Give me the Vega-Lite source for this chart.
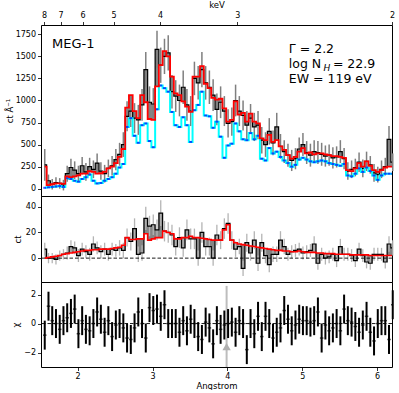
{
"$schema": "https://vega.github.io/schema/vega-lite/v6.json",
"padding": {"left": 4, "top": 0, "right": 3, "bottom": 0},
"spacing": 0,
"bounds": "flush",
"config": {
 "font": "DejaVu Sans",
 "view": {"stroke": "#000000", "strokeWidth": 1},
 "axis": {"grid": false, "domain": false, "ticks": true, "tickColor": "#000000", "tickSize": 3.5, "tickWidth": 0.8, "labelFont": "DejaVu Sans", "labelFontSize": 8, "labelColor": "#000000", "labelPadding": 2, "labelOverlap": false, "titleFont": "DejaVu Sans", "titleFontSize": 8.5, "titleFontWeight": "normal", "titleColor": "#000000"}
},
"datasets": {
"spec": [
{"x":1.56,"d":270,"e":180,"m":250,"c":10,"d2":7,"e2":5,"m2":0,"r":-0.8,"re":1},
{"x":1.61,"d":90,"e":70,"m":40,"c":15,"d2":0,"e2":4,"m2":0.5,"r":1.2,"re":1},
{"x":1.66,"d":50,"e":60,"m":50,"c":20,"d2":0,"e2":4,"m2":1,"r":0.2,"re":1},
{"x":1.71,"d":70,"e":60,"m":60,"c":25,"d2":-1,"e2":4,"m2":1.5,"r":0,"re":1},
{"x":1.76,"d":60,"e":60,"m":60,"c":30,"d2":2,"e2":4,"m2":2,"r":-0.4,"re":1},
{"x":1.81,"d":40,"e":60,"m":55,"c":20,"d2":3,"e2":4,"m2":3,"r":0.2,"re":1},
{"x":1.86,"d":170,"e":90,"m":140,"c":120,"d2":4,"e2":5,"m2":3.5,"r":0.4,"re":1},
{"x":1.91,"d":240,"e":100,"m":130,"c":110,"d2":9,"e2":5,"m2":4,"r":0.7,"re":1},
{"x":1.96,"d":210,"e":100,"m":140,"c":90,"d2":8,"e2":5,"m2":4.5,"r":1.0,"re":1},
{"x":2.01,"d":170,"e":90,"m":150,"c":80,"d2":2,"e2":5,"m2":5,"r":-0.7,"re":1},
{"x":2.06,"d":260,"e":100,"m":170,"c":110,"d2":7,"e2":5,"m2":5.5,"r":0.2,"re":1},
{"x":2.11,"d":190,"e":100,"m":170,"c":130,"d2":5,"e2":5,"m2":6,"r":-0.4,"re":1},
{"x":2.16,"d":250,"e":100,"m":200,"c":160,"d2":3,"e2":5,"m2":6,"r":-0.5,"re":1},
{"x":2.21,"d":220,"e":100,"m":190,"c":90,"d2":11,"e2":6,"m2":6.5,"r":0.0,"re":1},
{"x":2.26,"d":290,"e":110,"m":170,"c":60,"d2":8,"e2":5,"m2":6.5,"r":0.8,"re":1},
{"x":2.31,"d":200,"e":100,"m":175,"c":65,"d2":5,"e2":5,"m2":7,"r":0.3,"re":1},
{"x":2.36,"d":170,"e":100,"m":190,"c":90,"d2":7,"e2":5,"m2":7,"r":-0.6,"re":1},
{"x":2.41,"d":230,"e":100,"m":230,"c":110,"d2":3,"e2":5,"m2":7,"r":0.2,"re":1},
{"x":2.46,"d":260,"e":110,"m":250,"c":130,"d2":7,"e2":5,"m2":7.5,"r":-0.9,"re":1},
{"x":2.51,"d":330,"e":120,"m":290,"c":170,"d2":6,"e2":5,"m2":8,"r":-0.1,"re":1},
{"x":2.56,"d":390,"e":130,"m":360,"c":240,"d2":8,"e2":6,"m2":8.5,"r":0,"re":1},
{"x":2.61,"d":500,"e":140,"m":450,"c":280,"d2":6,"e2":6,"m2":10,"r":-0.3,"re":1},
{"x":2.66,"d":820,"e":170,"m":920,"c":700,"d2":16,"e2":7,"m2":16,"r":-1.0,"re":1},
{"x":2.71,"d":880,"e":180,"m":1060,"c":800,"d2":13,"e2":7,"m2":14.5,"r":-1.1,"re":1},
{"x":2.76,"d":800,"e":170,"m":880,"c":600,"d2":23,"e2":8,"m2":14.5,"r":-0.3,"re":1},
{"x":2.81,"d":780,"e":170,"m":800,"c":520,"d2":3,"e2":6,"m2":15,"r":0.8,"re":1},
{"x":2.86,"d":950,"e":180,"m":1060,"c":720,"d2":4,"e2":6,"m2":15,"r":0.0,"re":1},
{"x":2.91,"d":1350,"e":200,"m":980,"c":740,"d2":31,"e2":9,"m2":19,"r":-1.0,"re":1},
{"x":2.96,"d":980,"e":180,"m":790,"c":540,"d2":25,"e2":8,"m2":14,"r":1.1,"re":1},
{"x":3.01,"d":960,"e":180,"m":780,"c":470,"d2":26,"e2":8,"m2":15,"r":0.9,"re":1},
{"x":3.06,"d":1580,"e":210,"m":1160,"c":900,"d2":22,"e2":8,"m2":16,"r":1.0,"re":1},
{"x":3.11,"d":1400,"e":200,"m":1400,"c":1170,"d2":35,"e2":10,"m2":16,"r":0.5,"re":1},
{"x":3.16,"d":1500,"e":200,"m":1560,"c":1140,"d2":21,"e2":8,"m2":21,"r":1.3,"re":1},
{"x":3.21,"d":1540,"e":200,"m":1500,"c":1100,"d2":20,"e2":8,"m2":20,"r":0.0,"re":1},
{"x":3.26,"d":1100,"e":190,"m":1270,"c":870,"d2":18,"e2":8,"m2":19,"r":0.0,"re":1},
{"x":3.31,"d":1050,"e":180,"m":1080,"c":720,"d2":9,"e2":7,"m2":15,"r":0.0,"re":1},
{"x":3.36,"d":1000,"e":180,"m":1060,"c":700,"d2":16,"e2":8,"m2":15,"r":-0.6,"re":1},
{"x":3.41,"d":1150,"e":190,"m":990,"c":810,"d2":8,"e2":7,"m2":16,"r":0.2,"re":1},
{"x":3.46,"d":950,"e":180,"m":930,"c":720,"d2":22,"e2":8,"m2":16,"r":-0.5,"re":1},
{"x":3.51,"d":880,"e":170,"m":870,"c":530,"d2":15,"e2":8,"m2":17,"r":0.3,"re":1},
{"x":3.56,"d":1250,"e":190,"m":1270,"c":890,"d2":15,"e2":8,"m2":16,"r":0.0,"re":1},
{"x":3.61,"d":1200,"e":190,"m":1270,"c":950,"d2":0,"e2":6,"m2":16,"r":-0.9,"re":1},
{"x":3.66,"d":1350,"e":200,"m":1390,"c":1100,"d2":20,"e2":8,"m2":15.5,"r":-1.1,"re":1},
{"x":3.71,"d":1200,"e":190,"m":1190,"c":830,"d2":9,"e2":7,"m2":15,"r":0.1,"re":1},
{"x":3.76,"d":1150,"e":190,"m":1140,"c":820,"d2":9,"e2":7,"m2":14.5,"r":-0.3,"re":1},
{"x":3.81,"d":1060,"e":180,"m":1030,"c":690,"d2":0,"e2":6,"m2":14,"r":-1.4,"re":1},
{"x":3.86,"d":900,"e":180,"m":1010,"c":760,"d2":18,"e2":8,"m2":14,"r":0.2,"re":1},
{"x":3.91,"d":980,"e":180,"m":1020,"c":590,"d2":14,"e2":7,"m2":14,"r":-0.4,"re":1},
{"x":3.96,"d":880,"e":170,"m":910,"c":350,"d2":23,"e2":8,"m2":22,"r":-0.1,"re":1},
{"x":4.01,"d":740,"e":160,"m":760,"c":490,"d2":27,"e2":8,"m2":26,"r":0.0,"re":1},
{"x":4.06,"d":760,"e":160,"m":780,"c":510,"d2":14,"e2":7,"m2":14,"r":0.1,"re":1},
{"x":4.11,"d":1000,"e":180,"m":990,"c":740,"d2":7,"e2":6,"m2":12,"r":-0.6,"re":1},
{"x":4.16,"d":880,"e":170,"m":840,"c":650,"d2":9,"e2":6,"m2":11,"r":0.2,"re":1},
{"x":4.21,"d":830,"e":170,"m":860,"c":560,"d2":-8,"e2":6,"m2":10.5,"r":0.0,"re":1},
{"x":4.26,"d":720,"e":160,"m":760,"c":550,"d2":12,"e2":7,"m2":10,"r":-1.8,"re":1},
{"x":4.31,"d":800,"e":160,"m":850,"c":630,"d2":4,"e2":6,"m2":9.5,"r":0.0,"re":1},
{"x":4.36,"d":700,"e":160,"m":760,"c":560,"d2":14,"e2":7,"m2":9,"r":-0.7,"re":1},
{"x":4.41,"d":720,"e":160,"m":740,"c":600,"d2":-4,"e2":6,"m2":8.5,"r":0.5,"re":1},
{"x":4.46,"d":550,"e":150,"m":570,"c":340,"d2":12,"e2":7,"m2":8,"r":-0.9,"re":1},
{"x":4.51,"d":500,"e":140,"m":550,"c":320,"d2":2,"e2":6,"m2":7.5,"r":0.5,"re":1},
{"x":4.56,"d":650,"e":150,"m":610,"c":460,"d2":-5,"e2":6,"m2":7,"r":0.0,"re":1},
{"x":4.61,"d":520,"e":140,"m":530,"c":400,"d2":3,"e2":6,"m2":6.5,"r":-1.0,"re":1},
{"x":4.66,"d":700,"e":160,"m":550,"c":420,"d2":3,"e2":6,"m2":6,"r":-0.6,"re":1},
{"x":4.71,"d":480,"e":140,"m":480,"c":360,"d2":14,"e2":7,"m2":6,"r":-0.3,"re":1},
{"x":4.76,"d":420,"e":130,"m":440,"c":320,"d2":9,"e2":6,"m2":5.5,"r":0.9,"re":1},
{"x":4.81,"d":380,"e":130,"m":380,"c":290,"d2":3,"e2":5,"m2":5.5,"r":0.3,"re":1},
{"x":4.86,"d":320,"e":120,"m":340,"c":250,"d2":5,"e2":5,"m2":5,"r":-0.5,"re":1},
{"x":4.91,"d":340,"e":120,"m":360,"c":270,"d2":6,"e2":5,"m2":5,"r":-0.1,"re":1},
{"x":4.96,"d":450,"e":130,"m":420,"c":330,"d2":7,"e2":5,"m2":5.5,"r":0.3,"re":1},
{"x":5.01,"d":500,"e":130,"m":460,"c":350,"d2":4,"e2":5,"m2":5,"r":0.2,"re":1},
{"x":5.06,"d":410,"e":130,"m":400,"c":330,"d2":5,"e2":5,"m2":4.5,"r":0.2,"re":1},
{"x":5.11,"d":380,"e":130,"m":410,"c":310,"d2":6,"e2":5,"m2":4.5,"r":0.1,"re":1},
{"x":5.16,"d":420,"e":130,"m":390,"c":300,"d2":11,"e2":6,"m2":4.5,"r":0.2,"re":1},
{"x":5.21,"d":410,"e":130,"m":400,"c":310,"d2":-4,"e2":5,"m2":4,"r":0.8,"re":1},
{"x":5.26,"d":390,"e":130,"m":400,"c":320,"d2":3,"e2":5,"m2":4,"r":-1.0,"re":1},
{"x":5.31,"d":370,"e":120,"m":390,"c":310,"d2":0,"e2":5,"m2":3.5,"r":-0.1,"re":1},
{"x":5.36,"d":380,"e":120,"m":380,"c":290,"d2":1,"e2":5,"m2":3.5,"r":-0.5,"re":1},
{"x":5.41,"d":350,"e":120,"m":370,"c":280,"d2":3,"e2":5,"m2":3.5,"r":-0.3,"re":1},
{"x":5.46,"d":360,"e":120,"m":370,"c":270,"d2":-2,"e2":5,"m2":3,"r":0.0,"re":1},
{"x":5.51,"d":420,"e":130,"m":360,"c":260,"d2":9,"e2":6,"m2":3,"r":-0.5,"re":1},
{"x":5.56,"d":340,"e":120,"m":350,"c":280,"d2":3,"e2":5,"m2":3,"r":1.0,"re":1},
{"x":5.61,"d":200,"e":100,"m":210,"c":150,"d2":3,"e2":5,"m2":3,"r":0.2,"re":1},
{"x":5.66,"d":220,"e":100,"m":200,"c":140,"d2":2,"e2":5,"m2":2.5,"r":0.1,"re":1},
{"x":5.71,"d":240,"e":100,"m":230,"c":170,"d2":-2,"e2":5,"m2":2.5,"r":-0.2,"re":1},
{"x":5.76,"d":300,"e":110,"m":290,"c":230,"d2":7,"e2":5,"m2":2.5,"r":-0.6,"re":1},
{"x":5.81,"d":230,"e":100,"m":250,"c":190,"d2":2,"e2":5,"m2":2.5,"r":-0.1,"re":1},
{"x":5.86,"d":310,"e":110,"m":310,"c":240,"d2":-3,"e2":5,"m2":2.5,"r":0.5,"re":1},
{"x":5.91,"d":270,"e":100,"m":260,"c":200,"d2":-4,"e2":5,"m2":2,"r":-0.6,"re":1},
{"x":5.96,"d":180,"e":100,"m":210,"c":150,"d2":3,"e2":5,"m2":2,"r":-1.2,"re":1},
{"x":6.01,"d":160,"e":90,"m":190,"c":100,"d2":3,"e2":5,"m2":2,"r":0.0,"re":1},
{"x":6.06,"d":220,"e":100,"m":210,"c":150,"d2":3,"e2":5,"m2":2,"r":0.2,"re":1},
{"x":6.11,"d":250,"e":100,"m":240,"c":170,"d2":-3,"e2":5,"m2":2,"r":0.2,"re":1},
{"x":6.16,"d":560,"e":150,"m":250,"c":170,"d2":11,"e2":6,"m2":2,"r":-1.1,"re":1},
{"x":6.21,"d":300,"e":100,"m":250,"c":170,"d2":8,"e2":6,"m2":2,"r":1.3,"re":1}
],
"txt": [
{"x":1.657,"y":1592,"t":"MEG-1","k":"big"},
{"x":4.821,"y":1535,"t":"Γ = 2.2","k":"main"},
{"x":4.821,"y":1368,"t":"log N","k":"main"},
{"x":5.285,"y":1330,"t":"H","k":"sub"},
{"x":5.41,"y":1368,"t":"= 22.9","k":"main"},
{"x":4.821,"y":1202,"t":"EW = 119 eV","k":"main"}
],
"one": [{"z": 0}]
},
"vconcat": [
{
 "width": 351, "height": 171,
 "encoding": {
  "x": {"type": "quantitative", "title": "keV", "scale": {"domain": [1.51, 6.2], "nice": false, "zero": false},
    "axis": {"orient": "top", "title": "keV", "values": [1.54975, 1.77114, 2.06633, 2.4796, 3.0995, 4.13267, 6.199], "labelExpr": "format(12.398/datum.value, '.0f')", "labelFlush": false, "labelOverlap": false, "titlePadding": 2}},
  "y": {"type": "quantitative", "title": "ct Å⁻¹", "scale": {"domain": [-83, 1856], "nice": false, "zero": false},
    "axis": {"title": "ct Å⁻¹", "values": [0, 250, 500, 750, 1000, 1250, 1500, 1750], "format": "d", "labelOverlap": false, "titlePadding": 1}}
 },
 "layer": [
  {"data": {"name": "spec"},
   "mark": {"type": "area", "interpolate": "step", "color": "#858585", "clip": true},
   "encoding": {"x": {"field": "x"}, "y": {"field": "d"}, "y2": {"field": "m"}}},
  {"data": {"name": "spec"},
   "mark": {"type": "errorbar", "color": "#7f7f7f", "thickness": 1.5},
   "encoding": {"x": {"field": "x"}, "y": {"field": "d"}, "yError": {"field": "e"}}},
  {"data": {"name": "spec"},
   "mark": {"type": "line", "interpolate": "step", "color": "#000000", "strokeWidth": 1.2, "clip": true},
   "encoding": {"x": {"field": "x"}, "y": {"field": "d"}}},
  {"data": {"name": "spec"},
   "mark": {"type": "line", "interpolate": "step", "color": "#00ffff", "strokeWidth": 2, "clip": true},
   "encoding": {"x": {"field": "x"}, "y": {"field": "c"}}},
  {"data": {"name": "spec"},
   "mark": {"type": "tick", "orient": "horizontal", "color": "#0000ff", "size": 3, "thickness": 2, "clip": true},
   "encoding": {"x": {"field": "x"}, "y": {"field": "c"}}},
  {"data": {"name": "spec"},
   "mark": {"type": "line", "interpolate": "step", "color": "#ff0000", "strokeWidth": 1.8, "clip": true},
   "encoding": {"x": {"field": "x"}, "y": {"field": "m"}}},
  {"data": {"name": "txt"},
   "transform": [{"filter": "datum.k == 'big'"}],
   "mark": {"type": "text", "align": "left", "baseline": "alphabetic", "fontSize": 13, "color": "#000000"},
   "encoding": {"x": {"field": "x"}, "y": {"field": "y"}, "text": {"field": "t"}}},
  {"data": {"name": "txt"},
   "transform": [{"filter": "datum.k == 'main'"}],
   "mark": {"type": "text", "align": "left", "baseline": "alphabetic", "fontSize": 12.5, "color": "#000000"},
   "encoding": {"x": {"field": "x"}, "y": {"field": "y"}, "text": {"field": "t"}}},
  {"data": {"name": "txt"},
   "transform": [{"filter": "datum.k == 'sub'"}],
   "mark": {"type": "text", "align": "left", "baseline": "alphabetic", "fontSize": 9, "fontStyle": "italic", "color": "#000000"},
   "encoding": {"x": {"field": "x"}, "y": {"field": "y"}, "text": {"field": "t"}}}
 ]
},
{
 "width": 351, "height": 86,
 "encoding": {
  "x": {"type": "quantitative", "scale": {"domain": [1.51, 6.2], "nice": false, "zero": false}, "axis": null},
  "y": {"type": "quantitative", "title": "ct", "scale": {"domain": [-18.6, 48.4], "nice": false, "zero": false},
    "axis": {"title": "ct", "values": [0, 20, 40], "labelOverlap": false, "titlePadding": 3}}
 },
 "layer": [
  {"data": {"name": "spec"},
   "mark": {"type": "area", "interpolate": "step", "color": "#858585", "clip": true},
   "encoding": {"x": {"field": "x"}, "y": {"field": "d2"}, "y2": {"field": "m2"}}},
  {"data": {"name": "spec"},
   "mark": {"type": "errorbar", "color": "#b4b4b4", "thickness": 1.3},
   "encoding": {"x": {"field": "x"}, "y": {"field": "d2"}, "yError": {"field": "e2"}}},
  {"data": {"name": "one"},
   "mark": {"type": "rule", "color": "#000000", "strokeWidth": 0.9, "strokeDash": [3.5, 2]},
   "encoding": {"x": null, "y": {"datum": 0}}},
  {"data": {"name": "spec"},
   "mark": {"type": "line", "interpolate": "step", "color": "#000000", "strokeWidth": 1.2, "clip": true},
   "encoding": {"x": {"field": "x"}, "y": {"field": "d2"}}},
  {"data": {"name": "spec"},
   "mark": {"type": "line", "interpolate": "step", "color": "#ff0000", "strokeWidth": 1.6, "clip": true},
   "encoding": {"x": {"field": "x"}, "y": {"field": "m2"}}}
 ]
},
{
 "width": 351, "height": 85,
 "encoding": {
  "x": {"type": "quantitative", "title": "Angstrom", "scale": {"domain": [1.51, 6.2], "nice": false, "zero": false},
    "axis": {"title": "Angstrom", "values": [2, 3, 4, 5, 6], "format": "d", "labelFlush": false, "labelPadding": 1.5, "titlePadding": 1}},
  "y": {"type": "quantitative", "title": "χ", "scale": {"domain": [-3, 2.87], "nice": false, "zero": false},
    "axis": {"title": "χ", "values": [-2, 0, 2], "labelOverlap": false, "titlePadding": 3}}
 },
 "layer": [
  {"data": {"name": "one"},
   "mark": {"type": "rule", "color": "#bdbdbd", "strokeWidth": 2},
   "encoding": {"x": {"datum": 3.99}, "y": {"datum": -3}, "y2": {"datum": 2.6}}},
  {"data": {"name": "spec"},
   "mark": {"type": "errorbar", "color": "#000000", "thickness": 2},
   "encoding": {"x": {"field": "x"}, "y": {"field": "r"}, "yError": {"field": "re"}}},
  {"data": {"name": "spec"},
   "mark": {"type": "tick", "orient": "horizontal", "color": "#000000", "size": 3.5, "thickness": 1.5, "clip": true},
   "encoding": {"x": {"field": "x"}, "y": {"field": "r"}}},
  {"data": {"name": "one"},
   "mark": {"type": "rule", "color": "#000000", "strokeWidth": 0.9, "strokeDash": [3.5, 2]},
   "encoding": {"x": null, "y": {"datum": 0}}},
  {"data": {"name": "one"},
   "mark": {"type": "point", "shape": "triangle-up", "filled": true, "color": "#b0b0b0", "size": 70, "opacity": 1},
   "encoding": {"x": {"datum": 3.99}, "y": {"datum": -1.6}}}
 ]
}
]
}
